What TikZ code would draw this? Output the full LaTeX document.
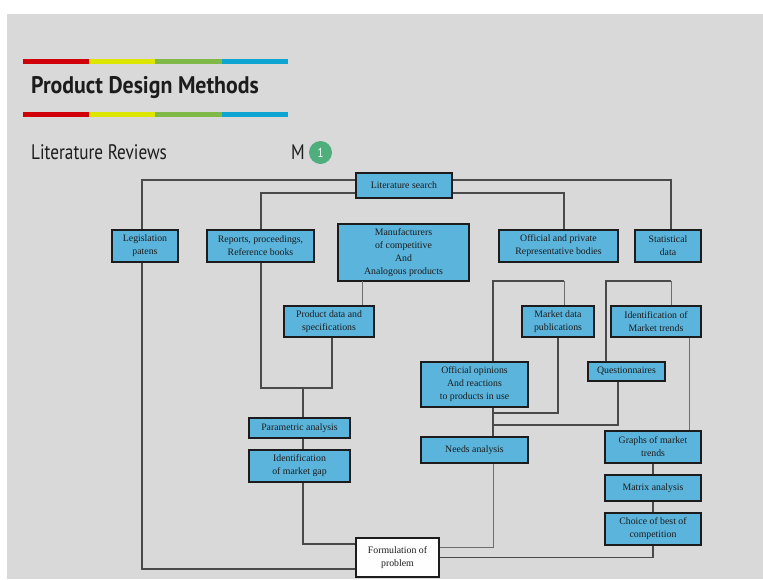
\documentclass[tikz,border=0pt]{standalone}
\usepackage{fontspec}
\setmainfont{Liberation Serif}
\newfontfamily\headfont[FakeStretch=0.82]{PT Sans}
\newfontfamily\headfontbold[FakeStretch=0.91]{PT Sans Bold}
\definecolor{pagegray}{HTML}{D9D9D9}
\definecolor{boxblue}{HTML}{5AB4DC}
\definecolor{barred}{HTML}{D0000A}
\definecolor{baryellow}{HTML}{DDE600}
\definecolor{bargreen}{HTML}{7FBA48}
\definecolor{barblue}{HTML}{0EA5D2}
\definecolor{badgegreen}{HTML}{4FAF7C}
\definecolor{linegray}{HTML}{4A4A4A}
\definecolor{inkdark}{HTML}{1C1C1C}
\tikzset{
  box/.style={draw=inkdark, line width=1.3pt, fill=boxblue, align=center,
    inner sep=1pt, text=inkdark, font=\fontsize{9.8}{13}\selectfont},
  mainbox/.style={box, line width=2.6pt},
  endbox/.style={box, fill=white!97!pagegray},
  link/.style={draw=linegray, line width=1.1pt},
  faint/.style={draw=linegray!80, line width=1pt},
  bar/.style={line width=5pt}
}
\begin{document}
\begin{tikzpicture}[x=1pt,y=-1pt]
\useasboundingbox (0,0) rectangle (763,579);
% page background
\fill[white] (0,0) rectangle (763,579);
\fill[pagegray] (7,14) rectangle (763,579);

% header colour bars
\foreach \yy in {61.5,114.5}{
  \draw[bar,barred] (23,\yy) -- (89,\yy);
  \draw[bar,baryellow] (89,\yy) -- (155,\yy);
  \draw[bar,bargreen] (155,\yy) -- (222,\yy);
  \draw[bar,barblue] (222,\yy) -- (288,\yy);
}
\node[anchor=base west, inner sep=0, text=inkdark, font=\headfontbold\fontsize{24}{26}\selectfont] (title) at (31,93) {Product Design Methods};
\node[anchor=base west, inner sep=0, text=inkdark, font=\headfont\fontsize{21}{24}\selectfont] (sub) at (31,159) {Literature Reviews};
\node[anchor=base west, inner sep=0, text=inkdark, font=\headfont\fontsize{21}{24}\selectfont] (mlabel) at (291,159) {M};
\node[circle, fill=badgegreen, minimum size=23pt, inner sep=0, text=white, font=\headfont\fontsize{13}{14}\selectfont] (badge) at (320.5,152.5) {1};

% boxes
\node[mainbox, minimum width=96, minimum height=25] (lit) at (404,185.5) {Literature search};
\node[box, minimum width=66, minimum height=32] (leg) at (145,246) {Legislation\\patens};
\node[box, minimum width=107, minimum height=32] (rep) at (260.5,246) {Reports, proceedings,\\Reference books};
\node[box, minimum width=131, minimum height=57] (man) at (403.5,252.5) {Manufacturers\\of competitive\\And\\Analogous products};
\node[box, minimum width=119, minimum height=32] (off) at (558.5,246) {Official and private\\Representative bodies};
\node[box, minimum width=66, minimum height=32] (stat) at (668,246) {Statistical\\data};
\node[box, minimum width=90, minimum height=31] (prod) at (329,321.5) {Product data and\\specifications};
\node[box, minimum width=72, minimum height=31] (mkt) at (558,321.5) {Market data\\publications};
\node[box, minimum width=90, minimum height=31] (trend) at (656,321.5) {Identification of\\Market trends};
\node[box, minimum width=107, minimum height=45] (opin) at (474.5,384.5) {Official opinions\\And reactions\\to products in use};
\node[box, minimum width=77, minimum height=19] (quest) at (626.5,371.5) {Questionnaires};
\node[box, minimum width=101, minimum height=20] (param) at (299.5,428) {Parametric analysis};
\node[box, minimum width=101, minimum height=32] (gap) at (299.5,466) {Identification\\of market gap};
\node[box, minimum width=107, minimum height=26] (needs) at (474.5,450) {Needs analysis};
\node[box, minimum width=96, minimum height=32] (graphs) at (653,447) {Graphs of market\\trends};
\node[box, minimum width=96, minimum height=26] (matrix) at (653,488) {Matrix analysis};
\node[box, minimum width=96, minimum height=32] (choice) at (653,529) {Choice of best of\\competition};
\node[endbox, minimum width=83, minimum height=39] (form) at (397.5,557.5) {Formulation of\\problem};

% junction points
\coordinate (pj) at (303,388);
\coordinate (mp) at (362,281);
\coordinate (oj) at (564,281);
\coordinate (sj) at (671,281);
\coordinate (oa) at (493,413);
\coordinate (ob) at (493,425);

% connectors from the literature search
\draw[link] ([yshift=5.5]lit.west) -| ([xshift=-3]leg.north);
\draw[link] ([yshift=5.5]lit.east) -| ([xshift=3]stat.north);
\draw[link] ([yshift=-7.5]lit.west) -| ([xshift=0.5]rep.north);
\draw[link] ([yshift=-7.5]lit.east) -| ([xshift=5.5]off.north);

% left branch
\draw[link] ([xshift=-3]leg.south) |- ([yshift=-11.5]form.west);
\draw[link] ([xshift=0.5]rep.south) |- (pj) -| ([xshift=3]prod.south);
\draw[faint] (mp) -- (mp |- prod.north);
\draw[link] (pj) -- (pj |- param.north);
\draw[link] (param.south -| pj) -- (gap.north -| pj);
\draw[link] (gap.south -| pj) |- ([yshift=13.5]form.west);

% middle branch
\draw[faint] (oj) -- (oj |- mkt.north);
\draw[link] (oj) -| (opin.north -| oa);
\draw[link] (mkt.south) |- (oa);
\draw[link] ([xshift=-8.5]quest.south) |- (ob);
\draw[link] (opin.south -| oa) -- (needs.north -| oa);
\draw[faint] (needs.south -| oa) |- ([yshift=10.5]form.east);

% right branch
\draw[faint] (sj) -- (sj |- trend.north);
\draw[link] (sj) -| ([xshift=-20.5]quest.north);
\draw[faint] ([xshift=33]trend.south) -- ([xshift=36]graphs.north);
\draw[link] (graphs.south) -- (matrix.north);
\draw[link] (matrix.south) -- (choice.north);
\draw[link] (choice.south) |- (form.east);
\end{tikzpicture}
\end{document}
